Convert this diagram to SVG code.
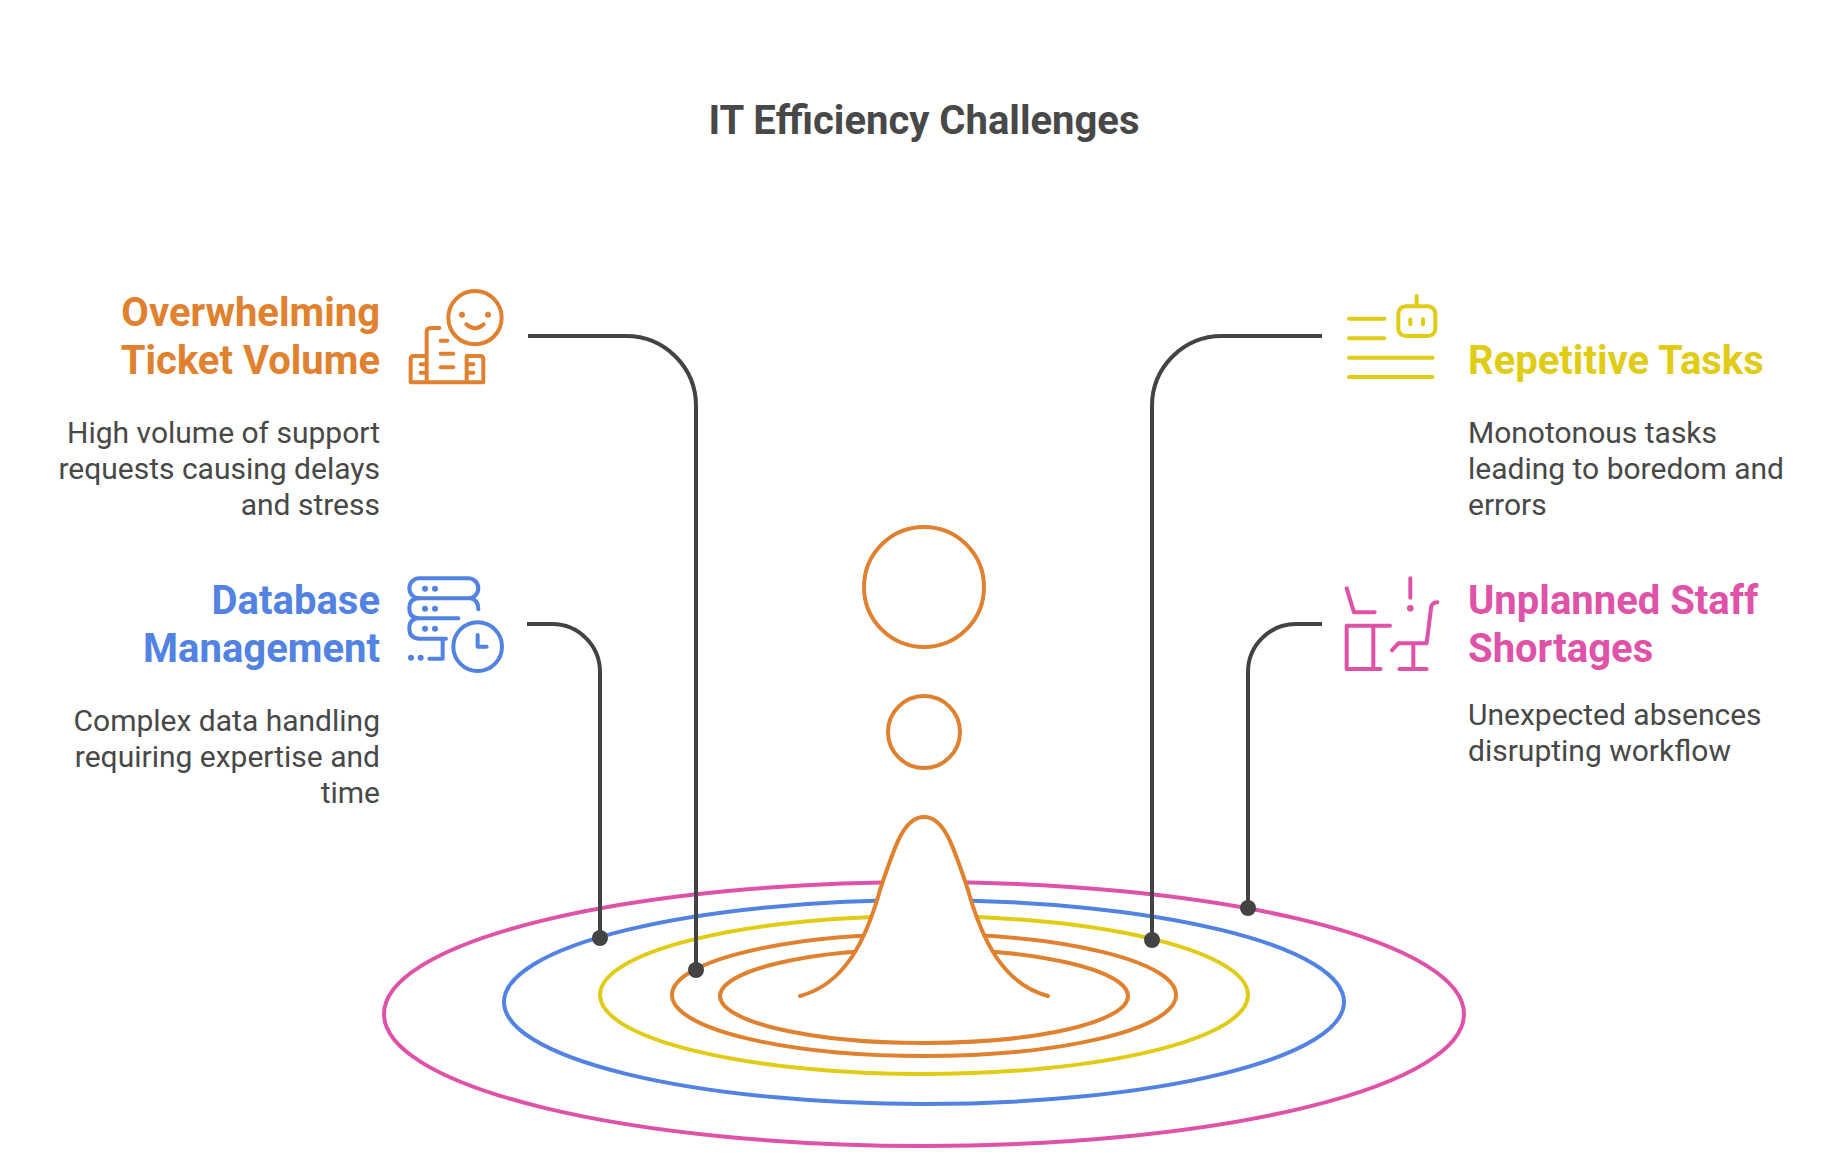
<svg xmlns="http://www.w3.org/2000/svg" width="1848" height="1164" viewBox="0 0 1848 1164">
<style>
text{font-family:Roboto,"Liberation Sans",sans-serif;fill:#484848}
.t{font-size:40px;font-weight:700}
.h{font-size:40px;font-weight:700}
.b{font-size:30px}
.e{text-anchor:end}
.m{text-anchor:middle}
.ring{fill:none;stroke-width:4}
.or{stroke:#e0812f}.bl{stroke:#5282e2}.ye{stroke:#e0cb15}.pi{stroke:#de52a8}
.ic{fill:none;stroke-width:12;stroke-linecap:round;stroke-linejoin:round}
.con{fill:none;stroke:#434343;stroke-width:4}
</style>
<rect width="1848" height="1164" fill="#fff"/>
<text class="t m" x="924" y="134">IT Efficiency Challenges</text>
<g id="rings">
<ellipse class="ring pi" cx="924" cy="1014" rx="540" ry="132"/>
<ellipse class="ring bl" cx="924" cy="1002" rx="420" ry="102"/>
<ellipse class="ring ye" cx="924" cy="995" rx="324" ry="79"/>
<ellipse class="ring or" cx="924" cy="995" rx="252" ry="61"/>
<ellipse class="ring or" cx="924" cy="996" rx="204" ry="47"/>
<path d="M800 996C845 984 866 940 880 890C895 845 904 817 924 817C944 817 953 845 968 890C982 940 1003 984 1048 996" fill="#fff" stroke="#e0812f" stroke-width="4" stroke-linecap="round"/>
<circle class="ring or" cx="924" cy="587" r="60"/>
<circle class="ring or" cx="924" cy="732" r="36"/>
</g>
<g id="connectors">
<path class="con" d="M528 336H626A70 70 0 0 1 696 406V970"/>
<circle cx="696" cy="970" r="8" fill="#434343"/>
<path class="con" d="M527 624H552A48 48 0 0 1 600 672V938"/>
<circle cx="600" cy="938" r="8" fill="#434343"/>
<path class="con" d="M1322 336H1222A70 70 0 0 0 1152 406V940"/>
<circle cx="1152" cy="940" r="8" fill="#434343"/>
<path class="con" d="M1322 624H1296A48 48 0 0 0 1248 672V908"/>
<circle cx="1248" cy="908" r="8" fill="#434343"/>
</g>
<g id="node-overwhelming">
<text class="h e" style="fill:#e0812f" x="380" y="326">Overwhelming</text>
<text class="h e" style="fill:#e0812f" x="380" y="374">Ticket Volume</text>
<text class="b e" x="380" y="443">High volume of support</text>
<text class="b e" x="380" y="479">requests causing delays</text>
<text class="b e" x="380" y="515">and stress</text>
<g transform="translate(390 271) scale(.3333)" class="ic or">
<circle cx="255" cy="140" r="80"/>
<path d="M229 160Q255 184 281 160M148 171H122Q110 171 110 183V333M110 255H72Q62 255 62 265V334H280V265Q280 255 270 255H230V334M92 280H110M92 305H110M230 280H250M230 305H250M152 209H172M152 248H190M152 289H190"/>
<circle cx="216" cy="131" r="9" style="fill:#e0812f;stroke:none"/>
<circle cx="294" cy="131" r="9" style="fill:#e0812f;stroke:none"/>
</g>
</g>
<g id="node-database">
<text class="h e" style="fill:#5282e2" x="380" y="614">Database</text>
<text class="h e" style="fill:#5282e2" x="380" y="662">Management</text>
<text class="b e" x="380" y="731">Complex data handling</text>
<text class="b e" x="380" y="767">requiring expertise and</text>
<text class="b e" x="380" y="803">time</text>
<g transform="translate(390 561) scale(.3333)" class="ic bl">
<rect x="58" y="52" width="207" height="60" rx="30"/>
<path d="M240 112Q265 115 265 145M88 112Q58 112 58 142Q58 172 88 172H205M88 172Q58 172 58 202Q58 233 88 233H168M158 233V293H118M263 222V257H290"/>
<circle cx="263" cy="257" r="73"/>
<g style="fill:#5282e2;stroke:none">
<circle cx="105" cy="83" r="9"/><circle cx="135" cy="83" r="9"/>
<circle cx="105" cy="143" r="9"/><circle cx="135" cy="143" r="9"/>
<circle cx="105" cy="203" r="9"/><circle cx="135" cy="203" r="9"/>
<circle cx="63" cy="290" r="9"/><circle cx="92" cy="290" r="9"/>
</g>
</g>
</g>
<g id="node-repetitive">
<text class="h" style="fill:#e0cb15" x="1468" y="374">Repetitive Tasks</text>
<text class="b" x="1468" y="443">Monotonous tasks</text>
<text class="b" x="1468" y="479">leading to boredom and</text>
<text class="b" x="1468" y="515">errors</text>
<g transform="translate(1330 281) scale(.3333)" class="ic ye">
<path d="M57 113H163M57 172H163M57 230H308M57 288H308M260 45V76M241 115V130M279 115V130"/>
<rect x="205" y="76" width="111" height="89" rx="22"/>
</g>
</g>
<g id="node-unplanned">
<text class="h" style="fill:#de52a8" x="1468" y="614">Unplanned Staff</text>
<text class="h" style="fill:#de52a8" x="1468" y="662">Shortages</text>
<text class="b" x="1468" y="725">Unexpected absences</text>
<text class="b" x="1468" y="761">disrupting workflow</text>
<g transform="translate(1330 565) scale(.3333)" class="ic pi">
<path d="M50 70L72 142H134M180 182H50V312H152M130 182V312M241 40V98M322 112Q305 112 303 130L290 235H205L186 256M250 235V312M208 312H290"/>
<circle cx="241" cy="130" r="10" style="fill:#de52a8;stroke:none"/>
</g>
</g>
</svg>
